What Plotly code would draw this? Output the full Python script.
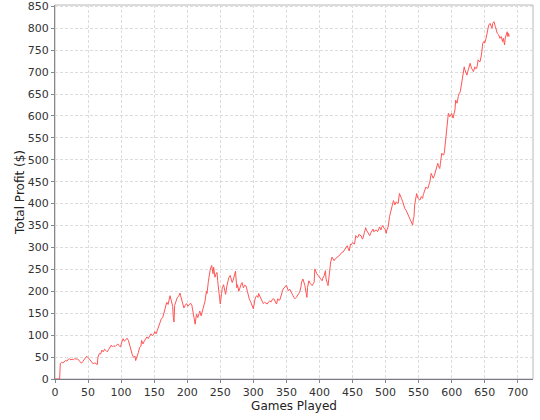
import plotly.graph_objects as go

games = [0, 7, 8, 10, 12, 14, 16, 18, 20, 22, 24, 26, 28, 30, 32, 34, 36, 38, 40, 42, 44, 46, 48, 50,
         52, 54, 56, 58, 60, 62, 64, 65, 67, 69, 71, 73, 75, 77, 79, 81, 83, 85, 87, 89, 91, 93, 95, 97,
         99, 101, 103, 105, 107, 109, 111, 113, 115, 117, 119, 121, 122, 124, 126, 128, 130, 131, 133,
         135, 137, 139, 141, 143, 145, 147, 149, 151, 153, 155, 157, 159, 161, 163, 165, 167, 169, 171,
         173, 174, 176, 178, 179, 180, 181, 183, 185, 187, 189, 190, 192, 194, 195, 197, 199, 201, 203,
         205, 207, 209, 210, 212, 214, 216, 218, 219, 221, 223, 224, 226, 227, 229, 230, 232, 234, 235,
         237, 239, 240, 242, 243, 245, 246, 248, 250, 252, 253, 255, 256, 258, 260, 262, 263, 265, 267,
         268, 270, 272, 273, 275, 276, 278, 280, 282, 283, 285, 287, 289, 291, 292, 294, 296, 297, 299,
         300, 302, 303, 305, 307, 308, 310, 311, 313, 315, 317, 319, 321, 323, 325, 327, 329, 331, 333,
         335, 337, 338, 340, 342, 344, 345, 347, 349, 350, 352, 353, 355, 357, 358, 360, 362, 363, 365,
         367, 368, 370, 372, 373, 375, 377, 378, 380, 381, 382, 384, 386, 387, 389, 391, 392, 393, 395,
         396, 398, 400, 402, 404, 405, 407, 409, 410, 412, 413, 415, 417, 419, 421, 422, 424, 426, 427,
         429, 431, 432, 434, 436, 437, 439, 440, 442, 443, 445, 447, 448, 450, 452, 453, 455, 456, 458,
         460, 461, 463, 465, 466, 468, 470, 471, 473, 475, 476, 478, 479, 481, 482, 484, 486, 488, 490,
         491, 493, 494, 496, 497, 499, 501, 502, 504, 506, 507, 509, 510, 512, 513, 514, 516, 517, 519,
         521, 522, 524, 526, 527, 529, 531, 533, 534, 536, 537, 539, 541, 542, 543, 544, 545, 547, 549,
         550, 552, 554, 556, 557, 559, 561, 562, 564, 566, 567, 569, 570, 572, 574, 575, 577, 579, 580,
         582, 583, 585, 586, 588, 589, 591, 592, 593, 595, 597, 598, 600, 602, 603, 605, 606, 608, 610,
         611, 613, 615, 617, 619, 620, 622, 623, 625, 626, 628, 630, 631, 633, 635, 636, 638, 640, 641,
         643, 645, 647, 649, 650, 652, 654, 656, 658, 659, 661, 662, 664, 666, 668, 669, 671, 673, 674,
         675, 677, 678, 679, 680, 681, 682, 684, 685, 686, 687]

profit = [0, 0, 35, 38, 37, 40, 42, 41, 45, 46, 44, 45, 44, 47, 45, 46, 43, 40, 36, 40, 44, 48, 52, 49,
          45, 40, 36, 34, 37, 35, 33, 50, 58, 57, 66, 62, 68, 65, 62, 67, 73, 77, 73, 76, 74, 78, 80, 76,
          73, 84, 92, 86, 90, 93, 88, 76, 64, 55, 49, 52, 42, 50, 60, 72, 75, 88, 80, 86, 90, 96, 92, 98,
          103, 99, 101, 108, 103, 112, 120, 128, 138, 140, 150, 160, 175, 170, 182, 190, 178, 165, 140,
          130, 168, 180, 186, 188, 196, 190, 178, 170, 162, 168, 172, 166, 170, 173, 168, 150, 133, 125,
          148, 140, 150, 155, 144, 155, 163, 172, 178, 200, 195, 223, 245, 251, 259, 240, 255, 232, 238,
          243, 225, 200, 171, 195, 208, 215, 205, 193, 212, 225, 232, 236, 225, 220, 228, 240, 246, 208,
          215, 200, 212, 218, 220, 208, 214, 212, 200, 193, 182, 176, 171, 165, 160, 178, 185, 190, 186,
          195, 188, 182, 175, 172, 175, 173, 171, 176, 178, 176, 182, 183, 175, 171, 183, 180, 180, 194,
          200, 205, 209, 212, 214, 205, 201, 205, 198, 194, 190, 185, 183, 186, 192, 194, 198, 210, 221,
          228, 218, 213, 195, 186, 209, 224, 218, 216, 213, 218, 221, 251, 243, 240, 236, 232, 228, 224,
          230, 235, 247, 228, 218, 213, 240, 267, 278, 272, 270, 274, 276, 278, 281, 283, 285, 289, 290,
          292, 298, 300, 304, 300, 292, 308, 306, 311, 310, 308, 327, 324, 323, 330, 328, 327, 319, 322,
          334, 345, 340, 334, 330, 327, 334, 338, 342, 336, 338, 340, 336, 345, 347, 340, 346, 350, 345,
          343, 332, 340, 347, 370, 378, 389, 395, 407, 400, 397, 404, 402, 400, 423, 418, 412, 404, 398,
          389, 385, 378, 374, 370, 365, 359, 351, 365, 370, 397, 410, 423, 412, 410, 408, 416, 412, 420,
          431, 438, 436, 435, 445, 450, 469, 464, 458, 465, 470, 484, 492, 486, 480, 492, 515, 512, 511,
          518, 553, 568, 590, 606, 598, 600, 606, 595, 600, 614, 636, 629, 644, 650, 655, 678, 693, 712,
          705, 698, 693, 705, 710, 720, 709, 705, 701, 712, 708, 709, 728, 725, 724, 739, 766, 770, 766,
          777, 792, 807, 811, 805, 800, 811, 815, 804, 790, 788, 785, 777, 780, 781, 769, 777, 770, 762,
          778, 785, 792, 781, 788, 781]

x_ticks = [0, 50, 100, 150, 200, 250, 300, 350, 400, 450, 500, 550, 600, 650, 700]
y_ticks = [0, 50, 100, 150, 200, 250, 300, 350, 400, 450, 500, 550, 600, 650, 700, 750, 800, 850]

fig = go.Figure()
fig.add_trace(go.Scatter(
    x=games, y=profit, mode="lines",
    line=dict(color="#ff5555", width=1),
    showlegend=False, hoverinfo="skip", cliponaxis=False,
))

font_family = "DejaVu Sans, Liberation Sans, sans-serif"

fig.update_layout(
    width=540, height=420,
    margin=dict(l=55, r=7, t=5, b=41, autoexpand=False),
    paper_bgcolor="white",
    plot_bgcolor="white",
    font=dict(family=font_family, size=11, color="#444444"),
    shapes=[dict(type="rect", xref="paper", yref="paper", x0=0, y0=0, x1=1, y1=1,
                 line=dict(color="#b8b8b8", width=1), layer="below")],
)
fig.update_xaxes(
    range=[0, 723], tickvals=x_ticks, ticktext=[str(v) for v in x_ticks],
    showgrid=True, gridcolor="#dcdcdc", griddash="3px,2px", gridwidth=1,
    zeroline=False, showline=True, linecolor="#7a7a8c", linewidth=1,
    ticks="outside", ticklen=3, tickcolor="#888888",
    tickfont=dict(size=11, color="#333333"), automargin=False,
    ticklabeloverflow="allow",
    title=dict(text="Games Played", font=dict(size=12, color="#222222"), standoff=3),
)
fig.update_yaxes(
    range=[0, 853], tickvals=y_ticks, ticktext=[str(v) for v in y_ticks],
    showgrid=True, gridcolor="#dcdcdc", griddash="3px,2px", gridwidth=1,
    zeroline=False, showline=True, linecolor="#888888", linewidth=1,
    ticks="outside", ticklen=3, tickcolor="#888888",
    tickfont=dict(size=11, color="#333333"), automargin=False,
    ticklabeloverflow="allow",
    title=dict(text="Total Profit ($)", font=dict(size=12, color="#222222"), standoff=0),
)

fig.write_html("out.html", config={"displayModeBar": False},
               post_script="document.body.style.margin='0px';")
